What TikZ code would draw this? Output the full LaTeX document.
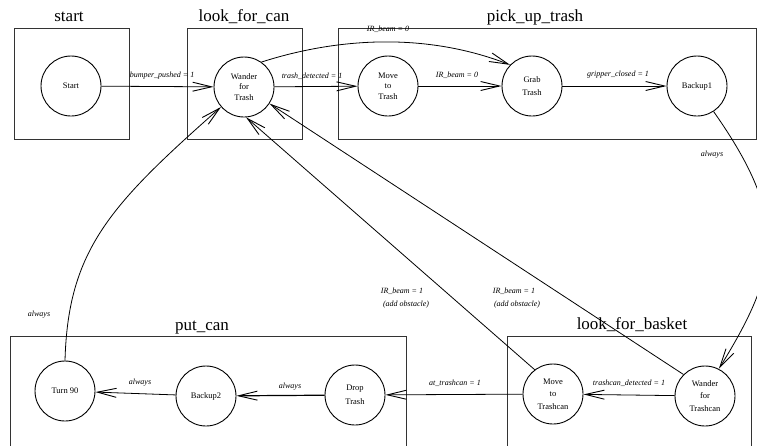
\documentclass[tikz,border=0pt]{standalone}
\usepackage{fontspec}
\setmainfont{Liberation Serif}
\usetikzlibrary{arrows.meta}
\begin{document}
\begin{tikzpicture}[x=1pt,y=-1pt,
  state/.style={circle, draw, line width=0.9pt, minimum size=60pt, inner sep=0pt,
    font=\fontsize{8.5}{10.5}\selectfont, align=center},
  grp/.style={draw=black!80, line width=0.8pt},
  title/.style={font=\fontsize{17}{19}\selectfont, anchor=base, inner sep=0pt},
  lbl/.style={font=\itshape\fontsize{8}{9}\selectfont, inner sep=0pt},
  tr/.style={-{Straight Barb[length=19pt,width=9pt,line width=0.9pt]}, line width=0.8pt}]
\useasboundingbox (0,0) rectangle (757,445);

% groups
\draw[grp] (14,28) rectangle (129,139);
\draw[grp] (187,28) rectangle (302,139);
\draw[grp] (338,28) rectangle (756,139);
\draw[grp] (10,336) rectangle (406,450);
\draw[grp] (507,336) rectangle (751,450);

\node[title] (tstart) at (69,21.5) {start};
\node[title] (tlfc) at (244,21.5) {look\_for\_can};
\node[title] (tput) at (535,21.5) {pick\_up\_trash};
\node[title] (tpc) at (202,330) {put\_can};
\node[title] (tlfb) at (632,329.5) {look\_for\_basket};

% states
\node[state] (start) at (71,86) {Start};
\node[state] (wft) at (244,87) {Wander\\for\\Trash};
\node[state] (mtt) at (388,86) {Move\\to\\Trash};
\node[state] (grab) at (532,86) {Grab\\[3pt]Trash};
\node[state] (bk1) at (697,86) {Backup1};
\node[state] (turn) at (65,391) {Turn 90};
\node[state] (bk2) at (206,396) {Backup2};
\node[state] (drop) at (355,395) {Drop\\[3pt]Trash};
\node[state] (mtc) at (553,394) {Move\\[2pt]to\\[2pt]Trashcan};
\node[state] (wtc) at (705,396) {Wander\\[2pt]for\\[2pt]Trashcan};

% transitions
\draw[tr] (start) -- (wft);
\draw[tr] (wft) -- (mtt);
\draw[tr] (mtt) -- (grab);
\draw[tr] (grab) -- (bk1);
\draw[tr] (wft.55) .. controls (330,40) and (420,30) .. (grab.136);
\draw[tr] (bk1.-57) .. controls (790,220) and (780,270) .. (wtc.63);
\draw[tr] (wtc) -- (mtc);
\draw[tr] (mtc) -- (drop);
\draw[tr, line width=1.2pt] (drop) -- (bk2);
\draw[tr] (bk2) -- (turn);
\draw[tr] (turn.90) .. controls (68,250) and (110,205) .. (wft.221);
\draw[tr] (mtc.127) -- (wft.274);
\draw[tr] (wtc.135) -- (wft.-33);

% labels
\node[lbl] (l1) at (162,76) {bumper\_pushed = 1};
\node[lbl] (l2) at (312,76) {trash\_detected = 1};
\node[lbl] (l3) at (388,29) {IR\_beam = 0};
\node[lbl] (l4) at (457,75) {IR\_beam = 0};
\node[lbl] (l5) at (618,75) {gripper\_closed = 1};
\node[lbl] (l6) at (712,155) {always};
\node[lbl] (l7) at (629,383) {trashcan\_detected = 1};
\node[lbl] (l8) at (455,383) {at\_trashcan = 1};
\node[lbl] (l9) at (290,387) {always};
\node[lbl] (l10) at (140,383) {always};
\node[lbl] (l11) at (39,315) {always};
\node[lbl] (l12) at (402,291) {IR\_beam = 1};
\node[lbl] (l13) at (406,305) {(add obstacle)};
\node[lbl] (l14) at (514,291) {IR\_beam = 1};
\node[lbl] (l15) at (517,305) {(add obstacle)};
\end{tikzpicture}
\end{document}
